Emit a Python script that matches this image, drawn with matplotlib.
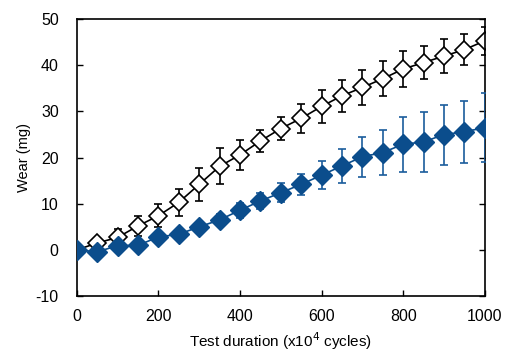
import numpy as np
import matplotlib.pyplot as plt

plt.rcParams['font.family'] = ['Liberation Sans', 'DejaVu Sans']
plt.rcParams['axes.unicode_minus'] = False

cycles = [0, 50, 100, 150, 200, 250, 300, 350, 400, 450, 500,
          550, 600, 650, 700, 750, 800, 850, 900, 950, 1000]

# open diamonds
wear_a = [0, 1.5, 2.7, 5.2, 7.4, 10.3, 14.2, 18.1, 20.6, 23.6, 26.3,
          28.5, 31.1, 33.4, 35.2, 37.1, 39.2, 40.6, 42.0, 43.4, 45.3]
err_a = [0, 1.0, 1.8, 2.2, 2.5, 3.0, 3.5, 3.9, 3.2, 2.4, 2.5,
         3.2, 3.5, 3.5, 3.7, 3.8, 3.9, 3.5, 3.6, 3.3, 3.0]

# filled diamonds
wear_b = [0, -0.4, 0.9, 1.0, 2.8, 3.4, 5.0, 6.5, 8.6, 10.6, 12.4,
          14.2, 16.2, 18.2, 20.2, 21.1, 22.9, 23.4, 25.0, 25.6, 26.5]
err_b = [0, 0.3, 0.4, 0.5, 0.6, 0.6, 0.8, 1.3, 1.6, 1.7, 2.0,
         2.3, 3.0, 3.6, 4.3, 4.8, 6.0, 6.5, 6.5, 6.7, 7.4]

blue = '#0b4d8c'

fig = plt.figure(figsize=(5.05, 3.55), dpi=100)
ax = fig.add_axes([0.152, 0.166, 0.808, 0.780])

ax.errorbar(cycles, wear_a, yerr=err_a, color='black', lw=1.2,
            marker='D', ms=9, mfc='white', mec='black', mew=1.2,
            ecolor='black', elinewidth=1.2, capsize=3, capthick=1.2, zorder=2)
ax.errorbar(cycles, wear_b, yerr=err_b, color=blue, lw=1.2,
            marker='D', ms=10, mfc=blue, mec=blue,
            ecolor='#1a5c9c', elinewidth=1.2, capsize=3, capthick=1.2, zorder=3)

ax.set_xlim(0, 1000)
ax.set_ylim(-10, 50)
ax.set_xticks(np.arange(0, 1001, 200))
ax.set_yticks(np.arange(-10, 51, 10))
ax.tick_params(direction='in', labelsize=11.5, length=4, width=1)
ax.tick_params(axis='x', pad=9)
ax.tick_params(axis='y', right=True, pad=13)
for s in ax.spines.values():
    s.set_linewidth(1.2)

ax.set_xlabel('Test duration (x10$^{4}$ cycles)', fontsize=11, labelpad=5)
ax.set_ylabel('Wear (mg)', fontsize=10.5, labelpad=3)

fig.savefig('out.png', dpi=100, facecolor='white')
